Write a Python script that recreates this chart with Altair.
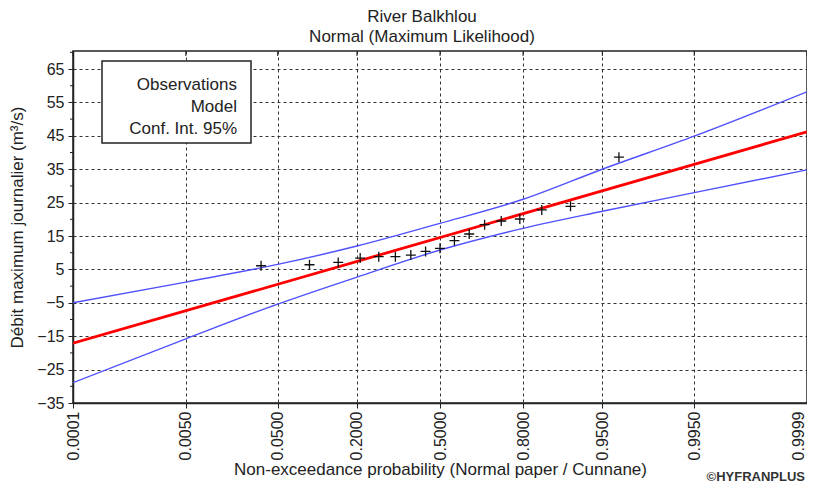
import altair as alt
import pandas as pd
from statistics import NormalDist

# ---- data ----
obs_prob = [0.0349, 0.0930, 0.1512, 0.2093, 0.2674, 0.3256, 0.3837, 0.4419, 0.5000,
            0.5581, 0.6163, 0.6744, 0.7326, 0.7907, 0.8488, 0.9070, 0.9651]
obs_flow = [6.1, 6.4, 7.1, 8.4, 8.8, 8.8, 9.3, 10.4, 11.3,
            13.6, 15.6, 18.4, 19.5, 20.1, 22.8, 23.9, 38.6]

model_prob = [0.0001, 0.9999]
model_flow = [-17.1, 46.2]

ci_prob = [0.0001, 0.005, 0.05, 0.2, 0.5, 0.8, 0.95, 0.995, 0.9999]
ci_upper = [-5.0, 1.2, 6.5, 12.0, 18.8, 26.0, 35.0, 44.9, 58.2]
ci_lower = [-28.9, -15.8, -5.4, 2.7, 10.8, 17.3, 22.4, 28.0, 34.8]

tick_prob = [0.0001, 0.0050, 0.0500, 0.2000, 0.5000, 0.8000, 0.9500, 0.9950, 0.9999]
y_ticks = [-35, -25, -15, -5, 5, 15, 25, 35, 45, 55, 65]
y_minor = [-30, -20, -10, 0, 10, 20, 30, 40, 50, 60, 70]
legend_labels = ["Observations", "Model", "Conf. Int. 95%"]

nd = NormalDist()
tick_z = [nd.inv_cdf(p) for p in tick_prob]
x_dom = [tick_z[0], tick_z[-1]]

FONT = "Liberation Sans"
TXT = "#222"

xs = alt.Scale(domain=x_dom, nice=False, zero=False)
ys = alt.Scale(domain=[-35, 70.4], nice=False, zero=False)

xaxis = alt.Axis(values=tick_z, tickCount=30,
                 labelExpr="format(cumulativeNormal(datum.value), '.4f')",
                 labelAngle=270, title="Non-exceedance probability (Normal paper / Cunnane)",
                 titlePadding=2, tickSize=5, labelPadding=3,
                 labelOffset={"condition": {"test": "datum.value > 3.5", "value": -9}, "value": 0})
yaxis = alt.Axis(values=y_ticks, tickCount=30, title="Débit maximum journalier (m³/s)",
                 titlePadding=10, tickSize=5, labelPadding=4)

obs_df = pd.DataFrame({"p": obs_prob, "flow": obs_flow})
model_df = pd.DataFrame({"p": model_prob, "flow": model_flow})
ci_df = pd.DataFrame({"p": ci_prob * 2, "flow": ci_upper + ci_lower,
                      "band": ["upper"] * len(ci_prob) + ["lower"] * len(ci_prob)})
minor_df = pd.DataFrame({"flow": y_minor})
top_df = pd.DataFrame({"z": tick_z})

zcalc = "quantileNormal(datum.p, 0, 1)"

ci = alt.Chart(ci_df).transform_calculate(z=zcalc).mark_line(
    color="#5050ff", strokeWidth=1.4, interpolate="monotone", clip=True
).encode(
    x=alt.X("z:Q", scale=xs, axis=xaxis),
    y=alt.Y("flow:Q", scale=ys, axis=yaxis),
    detail="band:N",
)

model = alt.Chart(model_df).transform_calculate(z=zcalc).mark_line(
    color="#ff0000", strokeWidth=2.8, clip=True
).encode(x=alt.X("z:Q", scale=xs), y=alt.Y("flow:Q", scale=ys))

plus = "M-1,0L1,0M0,-1L0,1"
obs = alt.Chart(obs_df).transform_calculate(z=zcalc).mark_point(
    shape=plus, size=100, stroke="#111", strokeWidth=1.3, filled=False, opacity=1
).encode(x=alt.X("z:Q", scale=xs), y=alt.Y("flow:Q", scale=ys))

minor = alt.Chart(minor_df).mark_tick(
    color="#222", size=3, thickness=1, orient="horizontal", opacity=1
).encode(y=alt.Y("flow:Q", scale=ys), x=alt.value(-1.5))

top_ticks = alt.Chart(top_df).mark_tick(
    color="#222", size=5, thickness=1, orient="vertical", opacity=1
).encode(x=alt.X("z:Q", scale=xs), y=alt.value(2.5))

dummy = pd.DataFrame({"a": [0]})
box = alt.Chart(dummy).mark_rect(fill="white", stroke="#222", strokeWidth=1.5).encode(
    x=alt.value(29), x2=alt.value(178), y=alt.value(10), y2=alt.value(92)
)
leg_layers = []
for i, lab in enumerate(legend_labels):
    leg_layers.append(
        alt.Chart(dummy).mark_text(text=lab, align="right", baseline="middle",
                                   font=FONT, fontSize=17, color=TXT).encode(
            x=alt.value(164), y=alt.value(34 + 22 * i)
        )
    )

copyright_txt = alt.Chart(dummy).mark_text(
    text="©HYFRANPLUS", align="right", baseline="middle", font=FONT,
    fontSize=13, fontWeight="bold", color="#333"
).encode(x=alt.value(732), y=alt.value(426))

chart = alt.layer(ci, model, obs, minor, top_ticks, box, *leg_layers, copyright_txt).properties(
    width=734, height=352,
    title=alt.TitleParams(text="River Balkhlou", subtitle="Normal (Maximum Likelihood)",
                          font=FONT, fontSize=17, fontWeight="normal", color=TXT,
                          subtitleFont=FONT, subtitleFontSize=17, subtitleColor=TXT,
                          subtitlePadding=3, offset=5, anchor="middle", dx=-18),
    padding={"left": 65, "top": 43, "right": 0, "bottom": 82},
    autosize=alt.AutoSizeParams(type="none"),
).configure_view(
    stroke="#222", strokeWidth=1.5
).configure_axis(
    labelFont=FONT, labelFontSize=16, labelColor=TXT,
    titleFont=FONT, titleFontSize=17, titleColor=TXT, titleFontWeight="normal",
    domainColor="#222", tickColor="#222", domainWidth=1.5,
    grid=True, gridColor="#333", gridDash=[3, 3], gridWidth=1, gridOpacity=1,
)

chart.save("out.html", embed_options={"renderer": "svg", "actions": False})
